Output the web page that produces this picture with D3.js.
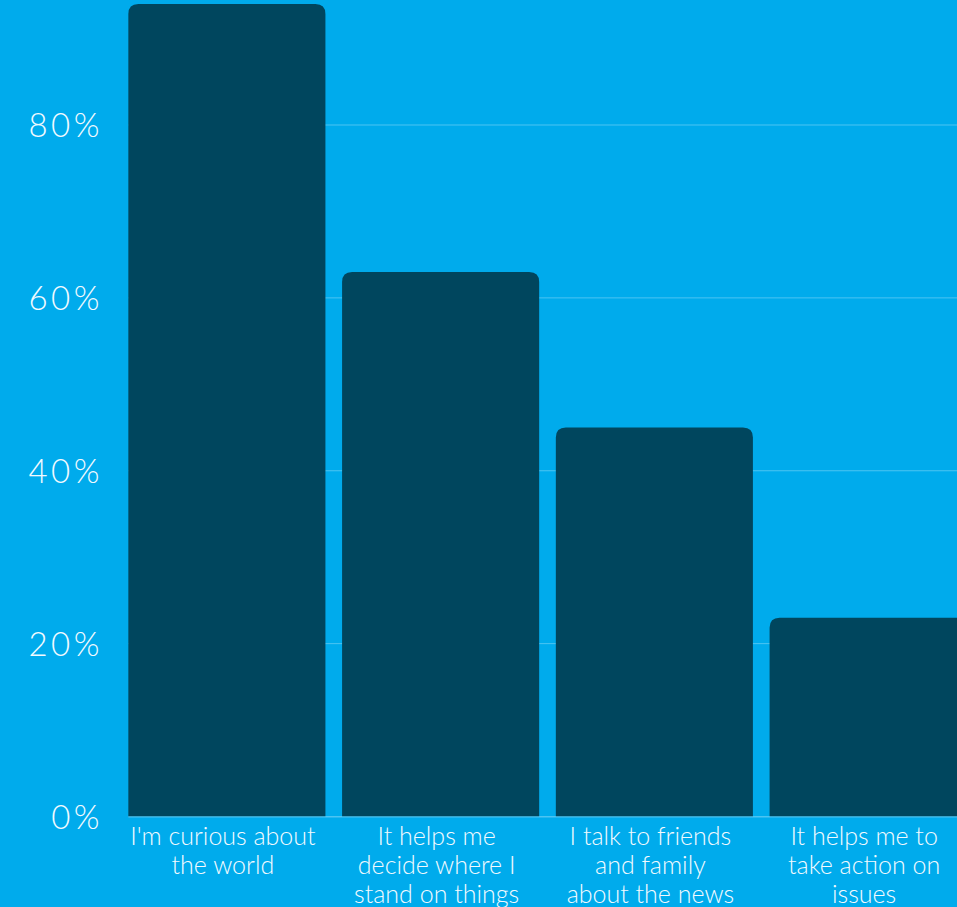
<!DOCTYPE html>
<html>
<head>
	<meta charset="utf-8">
	<script src="https://d3js.org/d3.v7.min.js"></script>
	<title>Why people follow the news</title>
	<style>
		body { margin: 0; background: #00abec; }
	</style>
</head>
<body>
	<div id="chart"></div>

	<script type="text/javascript">

		// categories (lines split with "|") and values in percent
		var categories = [
			"I'm curious about|the world",
			"It helps me|decide where I|stand on things",
			"I talk to friends|and family|about the news",
			"It helps me to|take action on|issues"
		];
		var values = [94, 63, 45, 23];
		var yTicks = [0, 20, 40, 60, 80];

		var data = categories.map(function(c, i){
			return { label: c, value: values[i] };
		});

		var svgwidth = 957;
		var svgheight = 907;

		var svg = d3.select("#chart").append("svg")
			.attr("width", svgwidth)
			.attr("height", svgheight);

		svg.append("rect")
			.attr("width", svgwidth)
			.attr("height", svgheight)
			.attr("fill", "#00abec");

		var xScale = d3.scaleBand()
			.domain(categories)
			.range([120, 975])
			.paddingInner(0.078)
			.paddingOuter(0.039);

		var yScale = d3.scaleLinear()
			.domain([0, 80])
			.range([816.5, 125]);

		// gridlines
		svg.append("g").selectAll("line")
			.data(yTicks).enter().append("line")
			.attr("x1", xScale(categories[0]))
			.attr("x2", svgwidth)
			.attr("y1", function(d){ return yScale(d); })
			.attr("y2", function(d){ return yScale(d); })
			.attr("stroke", "#4cc4f2")
			.attr("stroke-width", 1);

		// bars with rounded tops
		var r = 10;
		svg.append("g").selectAll("path")
			.data(data).enter().append("path")
			.attr("d", function(d){
				var x0 = xScale(d.label);
				var x1 = x0 + xScale.bandwidth();
				var y0 = yScale(0);
				var y1 = yScale(d.value);
				return "M" + x0 + "," + y0 +
					"V" + (y1 + r) +
					"Q" + x0 + "," + y1 + " " + (x0 + r) + "," + y1 +
					"H" + (x1 - r) +
					"Q" + x1 + "," + y1 + " " + x1 + "," + (y1 + r) +
					"V" + y0 + "Z";
			})
			.attr("fill", "#00465e");

		// baseline
		svg.append("line")
			.attr("x1", xScale(categories[0]))
			.attr("x2", svgwidth)
			.attr("y1", yScale(0) + 0.5)
			.attr("y2", yScale(0) + 0.5)
			.attr("stroke", "#4cc4f2")
			.attr("stroke-width", 1);

		// y axis labels
		var yAxis = d3.axisLeft(yScale)
			.tickValues(yTicks)
			.tickSize(0)
			.tickPadding(0)
			.tickFormat(function(d){ return d + "%"; });

		var gy = svg.append("g")
			.attr("transform", "translate(103,0)")
			.call(yAxis);
		gy.select(".domain").remove();
		gy.selectAll("text")
			.attr("fill", "#f2faff")
			.attr("font-family", "Lato, sans-serif")
			.attr("font-weight", 300)
			.attr("font-size", 33)
			.attr("letter-spacing", 3.5)
			.attr("dy", "0.36em");

		// category labels
		var xAxis = d3.axisBottom(xScale)
			.tickSize(0)
			.tickPadding(0)
			.tickFormat("");

		var gx = svg.append("g")
			.attr("transform", "translate(0," + yScale(0) + ")")
			.call(xAxis);
		gx.select(".domain").remove();
		gx.selectAll(".tick").each(function(d){
			var lines = d.split("|");
			var t = d3.select(this).select("text")
				.attr("fill", "#f2faff")
				.attr("font-family", "Lato, sans-serif")
				.attr("font-weight", 300)
				.attr("font-size", 25)
				.attr("text-anchor", "middle")
				.attr("y", 0)
				.attr("dy", null);
			lines.forEach(function(l, i){
				t.append("tspan")
					.attr("x", -4)
					.attr("y", 28 + i * 29)
					.text(l);
			});
		});

	</script>
</body>
</html>
